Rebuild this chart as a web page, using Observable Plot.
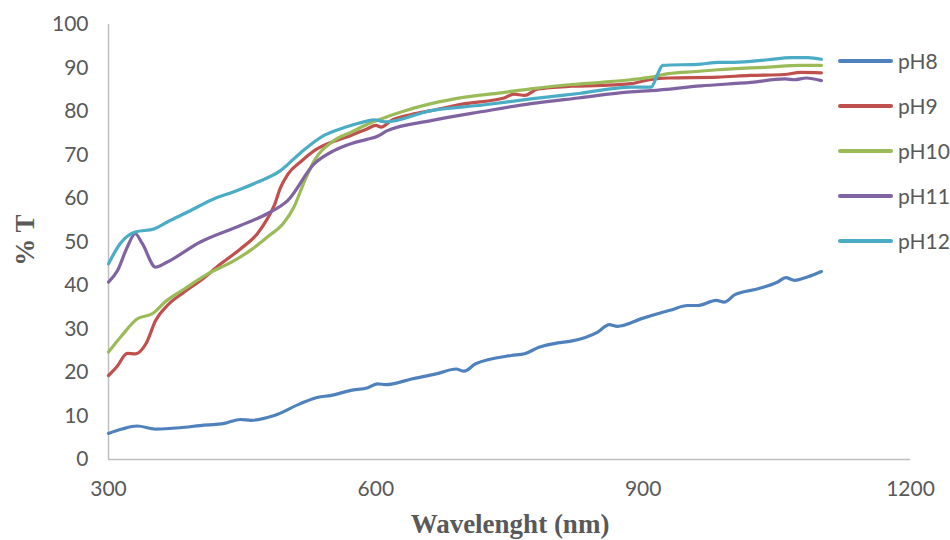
<!DOCTYPE html>
<html>
<head>
<meta charset="utf-8">
<script src="https://cdn.jsdelivr.net/npm/d3@7"></script>
<script src="https://cdn.jsdelivr.net/npm/@observablehq/plot@0.6"></script>
<style>
  html, body { margin: 0; padding: 0; background: #fff; }
  #wrap { position: relative; width: 950px; height: 540px; }
  #legend { position: absolute; left: 838px; top: 0; font-family: Lato, "Open Sans", sans-serif; font-size: 21px; color: #595959; }
  .item { position: absolute; left: 0; width: 120px; height: 24px; }
  .item .sw { position: absolute; left: 0; top: 10px; width: 55px; height: 4px; border-radius: 2px; }
  .item .lb { position: absolute; left: 60px; top: -1px; white-space: nowrap; }
</style>
</head>
<body>
<div id="wrap"><div id="chart"></div><div id="legend"></div></div>
<script>
const seriesNames = ["pH8", "pH9", "pH10", "pH11", "pH12"];
const seriesColors = ["#4f81bd", "#c0504d", "#9bbb59", "#8064a2", "#4bacc6"];
const xTicks = [300, 600, 900, 1200];
const yTicks = [0, 10, 20, 30, 40, 50, 60, 70, 80, 90, 100];

const pH8_x = [300,315,332,353,380,403,430,448,460,486,516,535,549,572,591,602,611,640,670,690,699,712,752,767,783,804,819,849,862,871,900,930,950,961,982,991,1003,1030,1051,1060,1070,1085,1100];
const pH8_y = [6.0,7.0,7.7,7.0,7.3,7.8,8.3,9.2,9.0,10.1,12.9,14.3,14.7,15.9,16.5,17.4,17.2,18.5,19.8,20.8,20.3,22.0,23.9,24.3,25.8,26.8,27.2,29.3,31.0,30.6,32.5,34.3,35.4,35.4,36.6,36.2,37.9,39.3,40.8,41.8,41.2,42.0,43.2];

const pH9_x = [300,310,321,330,342,353,366,385,403,425,448,467,477,486,493,501,516,531,546,572,590,600,606,617,640,662,700,744,755,767,782,820,853,886,909,928,984,1020,1058,1077,1100];
const pH9_y = [19.3,21.5,24.4,24.3,26.6,32.0,35.4,38.5,41.1,44.8,48.4,51.9,54.9,58.4,62.5,65.5,68.5,71.0,72.6,74.5,76.0,76.8,76.4,77.9,79.3,80.2,81.8,83.1,84.0,83.7,85.2,85.8,86.0,86.4,87.4,87.7,87.9,88.3,88.5,89.0,88.9];

const pH10_x = [300,315,332,349,365,385,410,441,460,478,497,508,520,531,553,572,590,606,630,662,700,740,774,820,853,886,909,928,960,984,1040,1077,1100];
const pH10_y = [24.7,28.5,32.3,33.5,36.5,39.2,42.5,45.7,48.2,51.1,54.5,58.0,64.0,68.7,73.3,75.2,77.0,78.3,80.0,81.8,83.3,84.3,85.2,86.2,86.7,87.3,87.9,88.7,89.2,89.6,90.2,90.6,90.6];

const pH11_x = [300,310,321,330,338,353,366,403,448,478,501,531,553,572,590,602,613,662,720,774,827,886,909,965,1021,1059,1070,1083,1100];
const pH11_y = [40.8,43.4,48.8,51.9,49.6,44.2,45.4,50.0,53.8,56.5,59.5,68.0,71.0,72.6,73.6,74.3,75.6,77.9,80.0,81.8,83.1,84.5,84.8,85.9,86.7,87.5,87.3,87.7,87.1];

const pH12_x = [300,313,330,351,366,390,418,440,463,493,516,542,560,572,590,598,611,662,720,774,830,886,909,916,922,965,984,1002,1040,1066,1085,1100];
const pH12_y = [45.0,49.6,52.3,53.0,54.6,57.0,59.9,61.5,63.4,66.4,70.6,74.5,76.0,76.8,77.8,78.1,77.6,80.2,81.5,82.9,84.2,85.6,85.6,88.5,90.6,90.9,91.3,91.3,91.9,92.4,92.4,92.0];

const seriesX = [pH8_x, pH9_x, pH10_x, pH11_x, pH12_x];
const seriesY = [pH8_y, pH9_y, pH10_y, pH11_y, pH12_y];

const rows = [];
seriesNames.forEach((name, i) => {
  seriesX[i].forEach((x, j) => rows.push({series: name, x, y: seriesY[i][j]}));
});

const chart = Plot.plot({
  width: 950,
  height: 540,
  marginLeft: 108,
  marginRight: 40,
  marginTop: 24,
  marginBottom: 81,
  style: {fontFamily: "Lato, 'Open Sans', sans-serif", fontSize: "21px", color: "#595959", background: "#fff"},
  x: {domain: [300, 1200]},
  y: {domain: [0, 100]},
  color: {domain: seriesNames, range: seriesColors},
  marks: [
    Plot.axisX({ticks: xTicks, tickFormat: d => String(d), tickSize: 0, tickPadding: 22, label: null, fill: "#595959"}),
    Plot.axisY({ticks: yTicks, tickFormat: d => String(d), tickSize: 0, tickPadding: 20, label: null, fill: "#595959"}),
    Plot.ruleY([0], {stroke: "#bfbfbf", strokeWidth: 1.5}),
    Plot.ruleX([300], {stroke: "#bfbfbf", strokeWidth: 1.5}),
    Plot.line(rows, {x: "x", y: "y", z: "series", stroke: "series", strokeWidth: 3.2, curve: "monotone-x", strokeLinecap: "round", strokeLinejoin: "round"})
  ]
});

const svg = d3.select(chart);
svg.append("text")
  .attr("x", 510).attr("y", 533)
  .attr("text-anchor", "middle")
  .attr("font-family", "'Liberation Serif', 'Times New Roman', serif")
  .attr("font-weight", "bold").attr("font-size", 27).attr("fill", "#595959")
  .text("Wavelenght (nm)");
svg.append("text")
  .attr("transform", "translate(34,240) rotate(-90)")
  .attr("text-anchor", "middle")
  .attr("font-family", "'Liberation Serif', 'Times New Roman', serif")
  .attr("font-weight", "bold").attr("font-size", 27).attr("fill", "#595959")
  .text("% T");

document.getElementById("chart").appendChild(chart);

const legend = document.getElementById("legend");
const rowTops = [49, 94, 139, 184, 229];
seriesNames.forEach((name, i) => {
  const d = document.createElement("div");
  d.className = "item";
  d.style.top = rowTops[i] + "px";
  d.innerHTML = `<div class="sw" style="background:${seriesColors[i]}"></div><div class="lb">${name}</div>`;
  legend.appendChild(d);
});
</script>
</body>
</html>
